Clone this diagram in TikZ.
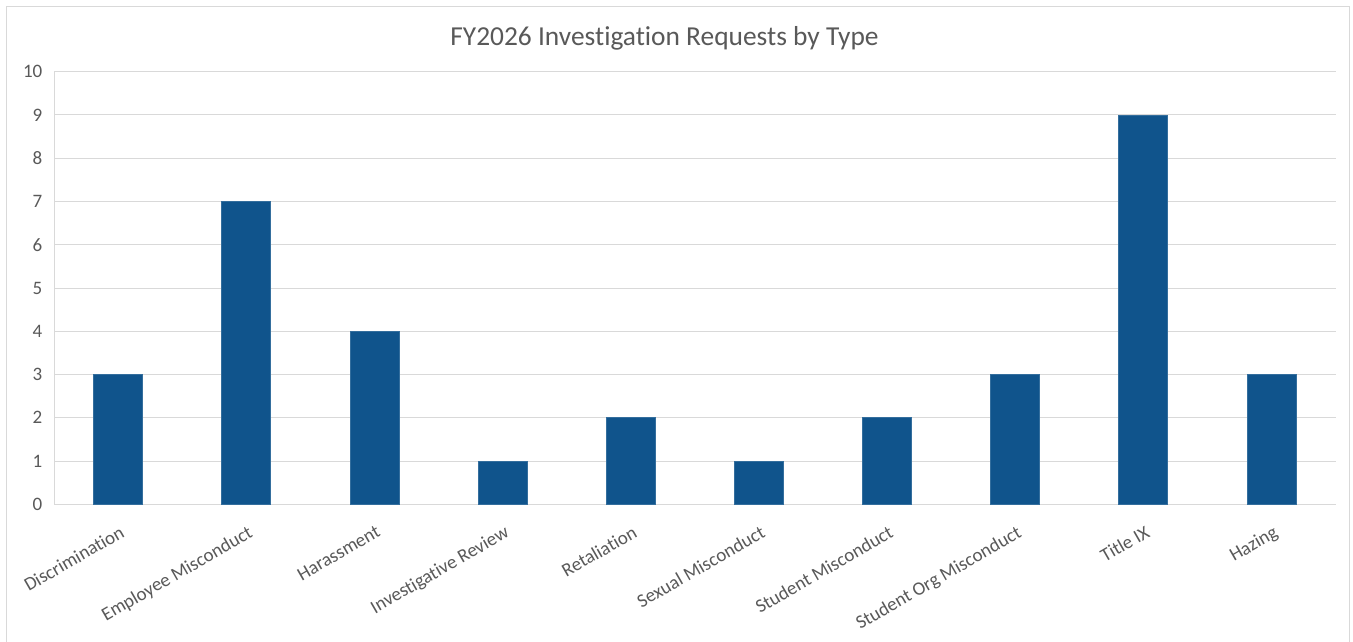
\documentclass[tikz,border=0pt]{standalone}
\usepackage{fontspec}
\setmainfont[Ligatures=NoCommon]{Carlito}
\definecolor{barblue}{RGB}{16,84,140}
\definecolor{gridgray}{RGB}{217,217,217}
\definecolor{textgray}{RGB}{89,89,89}
\tikzset{
  gridline/.style={draw=gridgray, line width=1pt},
  framebox/.style={draw=gridgray, line width=1pt},
  databar/.style={fill=barblue, draw=barblue!85!white, line width=0.6pt,
    inner sep=0pt, outer sep=0pt, minimum width=49pt},
  ticklabel/.style={text=textgray, font=\fontsize{19}{19}\selectfont,
    inner sep=0pt, anchor=east},
  catlabel/.style={text=textgray, font=\fontsize{19}{19}\selectfont,
    inner sep=0pt, rotate=30, anchor=north east},
  charttitle/.style={text=textgray, font=\fontsize{27.4}{27.4}\selectfont,
    inner sep=0pt, anchor=base}
}
\begin{document}
\begin{tikzpicture}[x=1pt,y=-1pt]
  \useasboundingbox (0,0) rectangle (1353,641);
  \fill[white] (0,0) rectangle (1353,641);
  % outer chart frame (bottom edge runs off the page)
  \draw[framebox] (6.5,645) -- (6.5,6.5) -- (1349,6.5) -- (1349,645);
  % title
  \node[charttitle] (title) at (664.5,45) {FY2026 Investigation Requests by Type};
  % horizontal gridlines and value axis labels
  \foreach \v in {0,...,10} {
    \pgfmathsetmacro\gy{504.3-43.26*\v}
    \draw[gridline] (54,\gy) -- (1335.5,\gy);
    \node[ticklabel] (tick\v) at (42.5,\gy) {\v};
  }
  % value axis line
  \draw[gridline] (54,71.7) -- (54,504.3);
  % bars and category labels
  \foreach \i/\v/\name in {0/3/Discrimination, 1/7/Employee Misconduct,
      2/4/Harassment, 3/1/Investigative Review, 4/2/Retaliation,
      5/1/Sexual Misconduct, 6/2/Student Misconduct,
      7/3/Student Org Misconduct, 8/9/Title IX, 9/3/Hazing} {
    \pgfmathsetmacro\cx{54+128.15*(\i+0.5)}
    \pgfmathsetmacro\bh{43.26*\v}
    \node[databar, minimum height=\bh pt, anchor=south] (bar\i) at (\cx,504.3) {};
    \node[catlabel] (cat\i) at (\cx+1,524.5) {\name};
  }
\end{tikzpicture}
\end{document}
